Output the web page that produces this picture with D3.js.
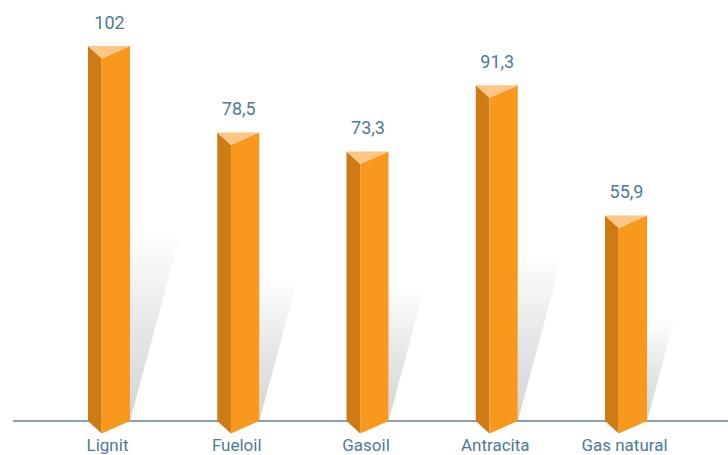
<!DOCTYPE html>
<html>
<head>
<meta charset="utf-8">
<script src="https://cdn.jsdelivr.net/npm/d3@7"></script>
<style>
  html, body { margin: 0; padding: 0; background: #fff; }
  svg { display: block; font-family: Roboto, "Liberation Sans", sans-serif; }
</style>
</head>
<body>
<svg id="chart" width="728" height="455"></svg>
<script>
// chart data
const categories = ["Lignit", "Fueloil", "Gasoil", "Antracita", "Gas natural"];
const values = [102, 78.5, 73.3, 91.3, 55.9];

const width = 728, height = 455;
const baseY = 421;
const halfW = 21;      // half of the prism back width
const frontDx = 13.7;  // front edge offset from the left corner
const depth = 12.5;    // how far the front edge drops below the back edge

const svg = d3.select("#chart");

const x = d3.scalePoint().domain(categories).range([109, 626]);
const y = d3.scaleLinear().domain([0, 102]).range([baseY, 46]);

const fmt = d3.formatLocale({ decimal: ",", thousands: ".", grouping: [3], currency: ["", " €"] }).format(",~f");

// shadow gradient, fades out toward the top
const defs = svg.append("defs");
const grad = defs.append("linearGradient")
  .attr("id", "shadowGrad")
  .attr("x1", 0).attr("y1", 1).attr("x2", 0).attr("y2", 0);
grad.append("stop").attr("offset", 0).attr("stop-color", "#d3d4d6");
grad.append("stop").attr("offset", 0.5).attr("stop-color", "#e6e7e8");
grad.append("stop").attr("offset", 1).attr("stop-color", "#ffffff");

const data = categories.map((c, i) => ({ cat: c, value: values[i] }));

// shadows behind bars
svg.append("g").selectAll("path")
  .data(data)
  .join("path")
  .attr("fill", "url(#shadowGrad)")
  .attr("d", d => {
    const cx = x(d.cat);
    const ys = y(d.value / 2);
    const r = cx + halfW;
    return `M${r},${baseY}L${r},${ys}L${r + 0.27 * (baseY - ys)},${ys}Z`;
  });

// baseline
svg.append("line")
  .attr("x1", 13).attr("x2", width)
  .attr("y1", baseY).attr("y2", baseY)
  .attr("stroke", "#5b809b")
  .attr("stroke-width", 1.5);

// prism bars
const bars = svg.append("g").selectAll("g")
  .data(data)
  .join("g");

bars.append("path")
  .attr("fill", "#cd7c15")
  .attr("d", d => {
    const cx = x(d.cat), t = y(d.value);
    const l = cx - halfW, f = l + frontDx;
    return `M${l},${t}L${f},${t + depth}L${f},${baseY + depth}L${l},${baseY}Z`;
  });

bars.append("path")
  .attr("fill", "#f8991e")
  .attr("d", d => {
    const cx = x(d.cat), t = y(d.value);
    const l = cx - halfW, f = l + frontDx, r = cx + halfW;
    return `M${f},${t + depth}L${r},${t}L${r},${baseY}L${f},${baseY + depth}Z`;
  });

bars.append("path")
  .attr("fill", "#fdc586")
  .attr("d", d => {
    const cx = x(d.cat), t = y(d.value);
    const l = cx - halfW, f = l + frontDx, r = cx + halfW;
    return `M${l},${t}L${r},${t}L${f},${t + depth}Z`;
  });

// value labels
svg.append("g").selectAll("text")
  .data(data)
  .join("text")
  .attr("x", d => x(d.cat) + 0.5)
  .attr("y", d => y(d.value) - 17.3)
  .attr("text-anchor", "middle")
  .attr("fill", "#4d7a99")
  .style("font-size", "18px")
  .text(d => fmt(d.value));

// category labels
svg.append("g").selectAll("text")
  .data(categories)
  .join("text")
  .attr("x", d => x(d) - 1.5)
  .attr("y", 450.5)
  .attr("text-anchor", "middle")
  .attr("fill", "#4d7a99")
  .style("font-size", "17px")
  .text(d => d);
</script>
</body>
</html>
